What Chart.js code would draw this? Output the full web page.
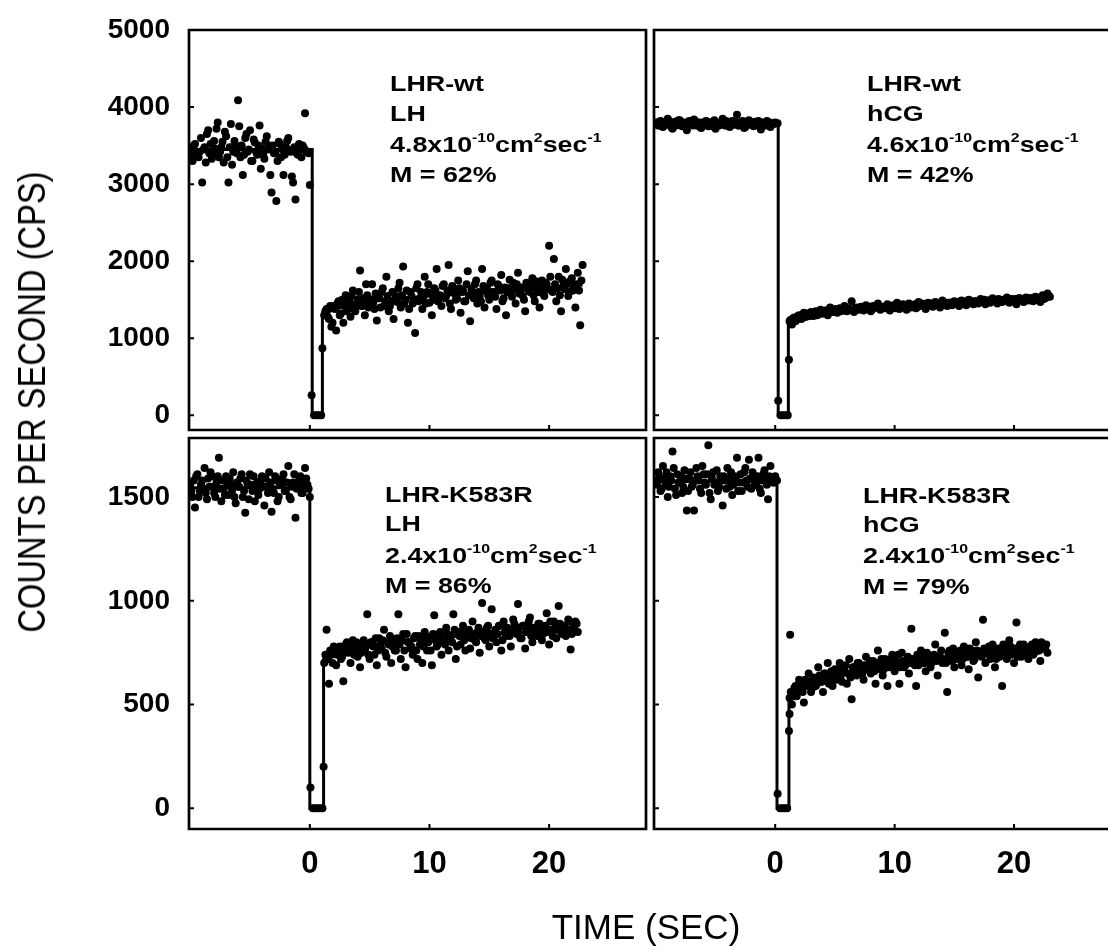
<!DOCTYPE html>
<html>
<head>
<meta charset="utf-8">
<script src="https://cdn.jsdelivr.net/npm/chart.js@4.4.1/dist/chart.umd.min.js"></script>
<style>
  html, body { margin: 0; padding: 0; background: #fff; }
  #fig { position: relative; width: 1110px; height: 946px; overflow: hidden;
         font-family: "Liberation Sans", Arial, sans-serif; color: #000; }
  canvas { position: absolute; }
  .ttl { position: absolute; white-space: nowrap; line-height: 1; }
  #ytitle { left: 32px; top: 402px; font-size: 38px;
            transform: translate(-50%, -50%) rotate(-90deg) scaleX(0.86); }
  #xtitle { left: 646px; top: 909px; font-size: 35px; transform: translateX(-50%); }
</style>
</head>
<body>
<div id="fig">
  <canvas id="c1" width="650" height="434" style="left:0;top:0"></canvas>
  <canvas id="c2" width="460" height="434" style="left:650px;top:0"></canvas>
  <canvas id="c3" width="650" height="512" style="left:0;top:434px"></canvas>
  <canvas id="c4" width="460" height="512" style="left:650px;top:434px"></canvas>
  <div class="ttl" id="ytitle">COUNTS PER SECOND (CPS)</div>
  <div class="ttl" id="xtitle">TIME (SEC)</div>
</div>
<script>
// axis ticks
const xTicks = [0, 10, 20];
const yTicksTop = [0, 1000, 2000, 3000, 4000, 5000];
const yTicksBottom = [0, 500, 1000, 1500];

// sampling of the traces (seconds); the "2" arrays sit half a step later
const PRE_T0 = -10;
const POST_T0 = 1.2;
const DT = 0.2;

// LHR-wt, LH
const wtLH_pre = [3450, 3300, 3520, 3380, 3420, 3020, 3480, 3650, 3400, 3330,
  3560, 3720, 3350, 3480, 3280, 3620, 3020, 3780, 3420, 3500,
  4090, 3350, 3120, 3600, 3420, 3700, 3300, 3540, 3380, 3760,
  3460, 3330, 3620, 3500, 2890, 3400, 2780, 3550, 3350, 3120,
  3480, 3600, 3420, 3020, 2800, 3380, 3450, 3500, 3920, 3420, 2990];
const wtLH_pre2 = [3380, 3500, 3420, 3350, 3600, 3450, 3280, 3700, 3520, 3390,
  3460, 3800, 3420, 3550, 3680, 3350, 3480, 3250, 3560, 3400,
  3750, 3500, 3380, 3650, 3450, 3300, 3580, 3420, 3500, 3200,
  3380, 3550, 3450, 3120, 3500, 3400, 3300, 3520, 3450, 3380,
  3560, 3440, 3100, 3480, 3400, 3520, 3350, 3470, 3430, 3400];
const wtLH_dipT = [0.15, 0.35, 0.55, 0.75, 0.95, 1.05];
const wtLH_dipV = [260, 0, 0, 0, 0, 870];
const wtLH_post = [1300, 1380, 1250, 1150, 1420, 1100, 1480, 1320, 1200, 1560,
  1400, 1280, 1620, 1350, 1500, 1880, 1420, 1300, 1560, 1450,
  1700, 1380, 1230, 1520, 1600, 1420, 1800, 1350, 1480, 1250,
  1550, 1650, 1400, 1930, 1500, 1200, 1600, 1450, 1070, 1700,
  1520, 1380, 1800, 1600, 1460, 1300, 1650, 1900, 1520, 1420,
  1700, 1550, 1950, 1380, 1600, 1500, 1750, 1330, 1620, 1480,
  1870, 1220, 1600, 1700, 1450, 1550, 1900, 1400, 1650, 1500,
  1750, 1600, 1380, 1680, 1820, 1520, 1300, 1650, 1580, 1720,
  1450, 1850, 1620, 1550, 1350, 1700, 1600, 1780, 1480, 1650,
  1400, 1750, 1550, 1700, 2200, 1620, 2030, 1480, 1800, 1350,
  1680, 1900, 1550, 1750, 1620, 1400, 1850, 1170, 1950];
const wtLH_post2 = [1350, 1280, 1420, 1200, 1380, 1450, 1300, 1500, 1420, 1350,
  1480, 1550, 1380, 1450, 1600, 1420, 1520, 1700, 1400, 1500,
  1460, 1580, 1520, 1400, 1650, 1480, 1550, 1420, 1600, 1500,
  1470, 1720, 1560, 1450, 1620, 1380, 1550, 1500, 1650, 1480,
  1600, 1540, 1450, 1700, 1580, 1500, 1620, 1480, 1560, 1680,
  1520, 1620, 1450, 1680, 1580, 1520, 1650, 1600, 1480, 1700,
  1560, 1640, 1520, 1750, 1600, 1480, 1680, 1620, 1560, 1720,
  1600, 1540, 1700, 1620, 1480, 1660, 1600, 1760, 1540, 1640,
  1700, 1580, 1660, 1500, 1720, 1620, 1680, 1560, 1740, 1600,
  1660, 1580, 1720, 1640, 1800, 1600, 1700, 1650, 1560, 1760,
  1640, 1720, 1600, 1780, 1660, 1700, 1620, 1750];
const wtLH_fitT = [-10.1, 0.2, 0.2, 1.05, 1.05, 1.5, 3, 5.7, 10, 16.9, 22.8];
const wtLH_fitV = [3450, 3450, 0, 0, 1300, 1340, 1420, 1490, 1550, 1610, 1690];

// LHR-wt, hCG
const wtHCG_pre = [3800, 3760, 3820, 3740, 3790, 3850, 3770, 3720, 3810, 3780,
  3830, 3750, 3790, 3700, 3820, 3770, 3840, 3760, 3800, 3730,
  3790, 3820, 3750, 3780, 3810, 3720, 3770, 3800, 3850, 3760,
  3790, 3740, 3820, 3780, 3900, 3760, 3810, 3730, 3790, 3830,
  3770, 3750, 3800, 3820, 3710, 3780, 3760, 3810, 3740, 3790, 3800];
const wtHCG_pre2 = [3780, 3810, 3750, 3800, 3770, 3820, 3740, 3790, 3760, 3830,
  3780, 3800, 3750, 3810, 3790, 3760, 3820, 3780, 3740, 3800,
  3770, 3810, 3790, 3750, 3830, 3780, 3760, 3800, 3790, 3820,
  3750, 3800, 3770, 3810, 3760, 3790, 3820, 3740, 3800, 3780,
  3760, 3810, 3790, 3750, 3800, 3770, 3820, 3760, 3790, 3780];
const wtHCG_dipT = [0.2, 0.25, 0.45, 0.65, 0.85, 1.05, 1.15];
const wtHCG_dipV = [3790, 190, 0, 0, 0, 0, 720];
const wtHCG_post = [1220, 1180, 1270, 1240, 1300, 1250, 1330, 1280, 1300, 1340,
  1290, 1350, 1310, 1370, 1320, 1360, 1300, 1400, 1340, 1380,
  1330, 1390, 1360, 1420, 1350, 1380, 1480, 1340, 1400, 1370,
  1410, 1360, 1430, 1380, 1350, 1420, 1400, 1450, 1370, 1410,
  1390, 1440, 1360, 1420, 1400, 1460, 1380, 1430, 1410, 1370,
  1450, 1400, 1430, 1390, 1470, 1420, 1440, 1380, 1460, 1430,
  1410, 1470, 1440, 1400, 1490, 1450, 1420, 1460, 1430, 1480,
  1450, 1420, 1490, 1460, 1430, 1500, 1470, 1440, 1480, 1450,
  1510, 1470, 1440, 1490, 1460, 1520, 1480, 1450, 1500, 1470,
  1490, 1530, 1460, 1510, 1480, 1440, 1520, 1500, 1470, 1530,
  1490, 1520, 1480, 1540, 1500, 1470, 1560, 1520, 1580, 1540];
const wtHCG_post2 = [1240, 1260, 1220, 1290, 1270, 1310, 1280, 1320, 1290, 1310,
  1330, 1300, 1340, 1320, 1350, 1330, 1370, 1340, 1360, 1350,
  1370, 1350, 1380, 1360, 1390, 1370, 1360, 1390, 1380, 1400,
  1380, 1400, 1390, 1410, 1370, 1400, 1420, 1390, 1410, 1400,
  1420, 1400, 1410, 1430, 1390, 1420, 1410, 1440, 1420, 1400,
  1430, 1420, 1440, 1410, 1430, 1450, 1420, 1440, 1430, 1450,
  1440, 1460, 1430, 1450, 1470, 1440, 1460, 1450, 1470, 1460,
  1470, 1450, 1480, 1460, 1470, 1490, 1460, 1480, 1470, 1490,
  1480, 1500, 1470, 1490, 1480, 1500, 1490, 1510, 1480, 1500,
  1490, 1510, 1500, 1480, 1510, 1500, 1520, 1490, 1510, 1500,
  1520, 1510, 1530, 1500, 1520, 1540, 1510, 1530, 1550];
const wtHCG_fitT = [-10.2, 0.25, 0.25, 1.1, 1.1, 1.5, 2.5, 5.35, 10.8, 16.3, 21.8, 23];
const wtHCG_fitV = [3780, 3780, 0, 0, 1200, 1250, 1300, 1370, 1420, 1470, 1510, 1525];

// LHR-K583R, LH
const mutLH_pre = [1560, 1500, 1450, 1610, 1530, 1580, 1640, 1490, 1550, 1600,
  1520, 1570, 1690, 1480, 1540, 1600, 1510, 1560, 1620, 1470,
  1550, 1590, 1500, 1425, 1560, 1610, 1530, 1480, 1570, 1540,
  1600, 1460, 1550, 1620, 1430, 1520, 1580, 1500, 1560, 1610,
  1530, 1650, 1490, 1570, 1400, 1550, 1600, 1520, 1640, 1560, 1500];
const mutLH_pre2 = [1530, 1580, 1600, 1500, 1560, 1540, 1520, 1590, 1620, 1550,
  1500, 1600, 1540, 1580, 1510, 1560, 1590, 1530, 1500, 1570,
  1550, 1610, 1530, 1580, 1490, 1560, 1600, 1540, 1510, 1580,
  1550, 1590, 1520, 1570, 1540, 1600, 1480, 1560, 1590, 1530,
  1570, 1500, 1550, 1610, 1540, 1580, 1520, 1560, 1590, 1540];
const mutLH_dipT = [0.05, 0.25, 0.45, 0.65, 0.85, 1.05, 1.15];
const mutLH_dipV = [100, 0, 0, 0, 0, 0, 200];
const mutLH_post = [700, 860, 600, 740, 780, 690, 760, 720, 612, 790,
  750, 700, 810, 770, 730, 680, 790, 760, 935, 720,
  800, 740, 690, 820, 770, 860, 730, 790, 700, 810,
  760, 935, 720, 840, 680, 800, 770, 740, 830, 720,
  790, 700, 850, 760, 820, 690, 930, 780, 840, 740,
  810, 870, 760, 830, 935, 720, 850, 790, 880, 760,
  830, 770, 900, 810, 850, 750, 990, 820, 870, 780,
  960, 840, 800, 880, 760, 900, 830, 860, 780, 910,
  850, 985, 820, 880, 770, 870, 920, 800, 860, 830,
  890, 810, 870, 940, 790, 860, 900, 820, 975, 850,
  880, 830, 910, 765, 870, 900, 850];
const mutLH_post2 = [740, 720, 760, 700, 770, 740, 780, 730, 760, 800,
  760, 790, 740, 800, 770, 750, 810, 780, 740, 800,
  780, 820, 760, 790, 810, 750, 800, 830, 780, 760,
  820, 790, 810, 760, 840, 800, 780, 820, 760, 830,
  810, 780, 830, 800, 760, 840, 810, 790, 850, 820,
  790, 840, 820, 800, 860, 780, 830, 850, 810, 840,
  860, 820, 840, 800, 870, 830, 850, 810, 880, 840,
  820, 860, 840, 880, 810, 850, 870, 830, 860, 890,
  840, 870, 820, 880, 850, 900, 830, 870, 850, 890,
  860, 840, 880, 850, 900, 830, 870, 860, 890, 840,
  880, 860, 900, 840, 870, 890];
const mutLH_fitT = [-10.1, 0, 0, 1.15, 1.15, 1.5, 3, 6, 8.6, 14, 18, 22.4];
const mutLH_fitV = [1545, 1545, 0, 0, 720, 745, 770, 795, 815, 835, 848, 860];

// LHR-K583R, hCG
const mutHCG_pre = [1580, 1620, 1530, 1650, 1560, 1500, 1600, 1720, 1540, 1610,
  1570, 1520, 1630, 1435, 1590, 1550, 1435, 1640, 1580, 1520,
  1610, 1560, 1750, 1490, 1620, 1570, 1530, 1600, 1460, 1580,
  1640, 1550, 1510, 1600, 1690, 1570, 1530, 1620, 1580, 1680,
  1540, 1600, 1560, 1690, 1520, 1610, 1580, 1490, 1650, 1570, 1600];
const mutHCG_pre2 = [1560, 1600, 1540, 1590, 1620, 1550, 1580, 1640, 1510, 1570,
  1600, 1550, 1590, 1530, 1620, 1560, 1580, 1600, 1540, 1650,
  1570, 1610, 1520, 1590, 1560, 1630, 1550, 1580, 1600, 1540,
  1590, 1620, 1560, 1580, 1530, 1610, 1570, 1640, 1550, 1590,
  1620, 1560, 1600, 1540, 1580, 1630, 1560, 1600, 1590, 1570];
const mutHCG_dipT = [0.15, 0.2, 0.4, 0.6, 0.8, 1.0, 1.15, 1.2, 1.25];
const mutHCG_dipV = [1580, 70, 0, 0, 0, 0, 373, 454, 837];
const mutHCG_post = [531, 500, 580, 540, 620, 570, 510, 600, 650, 560,
  630, 590, 680, 610, 560, 650, 700, 620, 590, 670,
  640, 700, 610, 660, 600, 720, 526, 680, 640, 700,
  660, 620, 730, 680, 650, 710, 600, 760, 670, 640,
  720, 590, 690, 740, 660, 700, 600, 750, 680, 710,
  650, 866, 720, 590, 690, 760, 700, 660, 740, 680,
  720, 790, 640, 730, 700, 846, 560, 760, 710, 680,
  750, 720, 690, 780, 730, 670, 760, 710, 800, 630,
  740, 909, 700, 760, 720, 790, 680, 750, 730, 590,
  770, 720, 810, 740, 700, 895, 760, 730, 790, 750,
  720, 780, 740, 800, 760, 710, 790, 770, 750];
const mutHCG_post2 = [560, 540, 590, 570, 600, 560, 620, 590, 610, 580,
  620, 600, 640, 610, 650, 630, 600, 660, 640, 620,
  670, 640, 660, 690, 650, 630, 680, 660, 700, 670,
  650, 690, 670, 710, 680, 660, 700, 690, 720, 670,
  700, 680, 720, 690, 710, 740, 680, 710, 690, 730,
  700, 720, 690, 740, 710, 730, 700, 750, 720, 700,
  740, 710, 730, 760, 720, 700, 750, 730, 770, 720,
  740, 760, 720, 750, 730, 770, 740, 720, 760, 750,
  730, 770, 750, 780, 740, 760, 720, 770, 750, 790,
  760, 740, 780, 750, 770, 730, 790, 760, 780, 750,
  770, 790, 750, 780, 760, 800, 770, 790];
const mutHCG_fitT = [-10.15, 0.15, 0.15, 1.15, 1.15, 1.6, 2.5, 5.5, 11, 16.5, 22, 22.9];
const mutHCG_fitV = [1575, 1575, 0, 0, 530, 560, 590, 650, 700, 730, 758, 765];

// panel captions
const names = ['LHR-wt', 'LHR-wt', 'LHR-K583R', 'LHR-K583R'];
const hormones = ['LH', 'hCG', 'LH', 'hCG'];
const coefs = ['4.8', '4.6', '2.4', '2.4'];
const mobile = ['62', '42', '86', '79'];

const FONT = '"Liberation Sans", Arial, sans-serif';

function times(t0, n) {
  return Array.from({ length: n }, (_, i) => Math.round((t0 + DT * i) * 100) / 100);
}

function toPoints(t0, vals) {
  const t = times(t0, vals.length);
  return vals.map((v, i) => ({ x: t[i], y: v }));
}

function trace(p) {
  return toPoints(PRE_T0, p.pre)
    .concat(toPoints(PRE_T0 + DT / 2, p.pre2))
    .concat(p.dipV.map((v, i) => ({ x: p.dipT[i], y: v })))
    .concat(toPoints(POST_T0, p.post))
    .concat(toPoints(POST_T0 + DT / 2, p.post2));
}

function caption(k) {
  return [
    [[names[k], 0]],
    [[hormones[k], 0]],
    [[coefs[k] + 'x10', 0], ['-10', 1], ['cm', 0], ['2', 1], ['sec', 0], ['-1', 1]],
    [['M = ' + mobile[k] + '%', 0]]
  ];
}

// frame, inward ticks and the caption of each panel
const framePlugin = {
  id: 'frame',
  afterDatasetsDraw(chart, args, o) {
    const { ctx, chartArea: a, scales } = chart;
    ctx.save();
    ctx.strokeStyle = '#000';
    ctx.lineWidth = 2.7;
    ctx.beginPath();
    if (o.openRight) {
      ctx.moveTo(a.right + 2, a.top);
      ctx.lineTo(a.left, a.top);
      ctx.lineTo(a.left, a.bottom);
      ctx.lineTo(a.right + 2, a.bottom);
    } else {
      ctx.rect(a.left, a.top, a.right - a.left, a.bottom - a.top);
    }
    ctx.stroke();

    ctx.lineWidth = 2;
    ctx.beginPath();
    scales.y.ticks.forEach(t => {
      const py = scales.y.getPixelForValue(t.value);
      ctx.moveTo(a.left, py);
      ctx.lineTo(a.left + 5, py);
    });
    scales.x.ticks.forEach(t => {
      const px = scales.x.getPixelForValue(t.value);
      ctx.moveTo(px, a.bottom);
      ctx.lineTo(px, a.bottom - 5);
    });
    ctx.stroke();

    ctx.fillStyle = '#000';
    ctx.textBaseline = 'alphabetic';
    o.lines.forEach((segs, k) => {
      ctx.save();
      ctx.translate(o.tx - o.offX, o.ty[k] - o.offY);
      ctx.scale(1.22, 1);
      let cx = 0;
      segs.forEach(([s, sup]) => {
        ctx.font = (sup ? 'bold 13px ' : 'bold 22px ') + FONT;
        ctx.fillText(s, cx, sup ? -10 : 0);
        cx += ctx.measureText(s).width;
      });
      ctx.restore();
    });
    ctx.restore();
  }
};

function panel(id, p) {
  new Chart(document.getElementById(id), {
    type: 'scatter',
    data: {
      datasets: [
        {
          data: trace(p),
          pointRadius: 4,
          pointBackgroundColor: '#000',
          pointBorderWidth: 0,
          showLine: false
        },
        {
          data: p.fitT.map((t, i) => ({ x: t, y: p.fitV[i] })),
          showLine: true,
          borderColor: '#000',
          borderWidth: 3,
          pointRadius: 0,
          tension: 0
        }
      ]
    },
    options: {
      responsive: false,
      animation: false,
      events: [],
      layout: { padding: p.padding },
      plugins: {
        legend: { display: false },
        tooltip: { enabled: false },
        frame: {
          openRight: p.openRight,
          offX: p.offX, offY: p.offY,
          tx: p.tx, ty: p.ty,
          lines: caption(p.k)
        }
      },
      scales: {
        x: {
          type: 'linear',
          min: p.xmin, max: p.xmax,
          grid: { display: false, drawTicks: false },
          border: { display: false },
          afterBuildTicks: s => { s.ticks = xTicks.map(v => ({ value: v })); },
          ticks: {
            display: p.showX,
            color: '#000',
            padding: 17,
            maxRotation: 0,
            font: { family: FONT, size: 31, weight: 'bold' },
            callback: v => String(v)
          },
          afterFit: s => { s.height = p.xh; s.paddingLeft = 0; s.paddingRight = 0; }
        },
        y: {
          min: p.ymin, max: p.ymax,
          grid: { display: false, drawTicks: false },
          border: { display: false },
          afterBuildTicks: s => { s.ticks = p.yTicks.map(v => ({ value: v })); },
          ticks: {
            display: p.showY,
            color: '#000',
            padding: 19,
            font: { family: FONT, size: 28, weight: 'bold' },
            callback: v => String(v)
          },
          afterFit: s => { s.width = p.yw; s.paddingTop = 0; s.paddingBottom = 0; }
        }
      }
    },
    plugins: [framePlugin]
  });
}

panel('c1', {
  k: 0, pre: wtLH_pre, pre2: wtLH_pre2, dipT: wtLH_dipT, dipV: wtLH_dipV,
  post: wtLH_post, post2: wtLH_post2, fitT: wtLH_fitT, fitV: wtLH_fitV,
  xmin: -10.1, xmax: 28.1, ymin: -190, ymax: 5000, yTicks: yTicksTop,
  showX: false, showY: true, xh: 0, yw: 189,
  padding: { top: 30, right: 3, bottom: 1, left: 0 },
  openRight: false, offX: 0, offY: 0, tx: 390, ty: [91, 121, 152, 182]
});
panel('c2', {
  k: 1, pre: wtHCG_pre, pre2: wtHCG_pre2, dipT: wtHCG_dipT, dipV: wtHCG_dipV,
  post: wtHCG_post, post2: wtHCG_post2, fitT: wtHCG_fitT, fitV: wtHCG_fitV,
  xmin: -10.15, xmax: 27.7, ymin: -190, ymax: 5000, yTicks: yTicksTop,
  showX: false, showY: false, xh: 0, yw: 1,
  padding: { top: 30, right: 0, bottom: 1, left: 0 },
  openRight: true, offX: 650, offY: 0, tx: 867, ty: [91, 121, 152, 182]
});
panel('c3', {
  k: 2, pre: mutLH_pre, pre2: mutLH_pre2, dipT: mutLH_dipT, dipV: mutLH_dipV,
  post: mutLH_post, post2: mutLH_post2, fitT: mutLH_fitT, fitV: mutLH_fitV,
  xmin: -10.1, xmax: 28.1, ymin: -100, ymax: 1785, yTicks: yTicksBottom,
  showX: true, showY: true, xh: 117, yw: 189,
  padding: { top: 1, right: 3, bottom: 0, left: 0 },
  openRight: false, offX: 0, offY: 434, tx: 385, ty: [502, 531, 563, 593]
});
panel('c4', {
  k: 3, pre: mutHCG_pre, pre2: mutHCG_pre2, dipT: mutHCG_dipT, dipV: mutHCG_dipV,
  post: mutHCG_post, post2: mutHCG_post2, fitT: mutHCG_fitT, fitV: mutHCG_fitV,
  xmin: -10.15, xmax: 27.7, ymin: -100, ymax: 1785, yTicks: yTicksBottom,
  showX: true, showY: false, xh: 117, yw: 1,
  padding: { top: 1, right: 0, bottom: 0, left: 0 },
  openRight: true, offX: 650, offY: 434, tx: 863, ty: [503, 532, 563, 594]
});
</script>
</body>
</html>
